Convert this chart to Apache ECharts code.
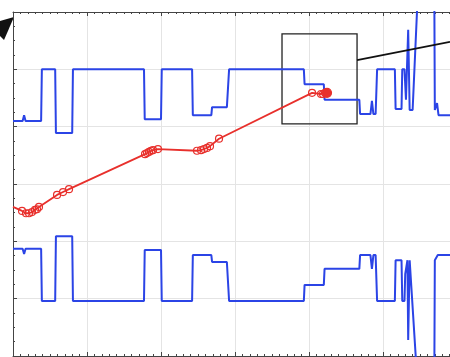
<!DOCTYPE html>
<html><head><meta charset="utf-8">
<script src="https://cdn.jsdelivr.net/npm/echarts@6/dist/echarts.min.js"></script>
<style>html,body{margin:0;padding:0;background:#fff}#c{width:450px;height:357px}</style>
</head><body><div id="c"></div>
<script>
// Axis ranges / ticks
const xMin = 0, xMax = 59.05, xInterval = 10;
const yMin = 0, yMax = 6, yInterval = 1;

// Upper blue trace [x, y]
const upperTrace = [
 [0,4.10],[1.3,4.10],[1.5,4.20],[1.7,4.10],
 [3.8,4.10],[3.9,5.00],[5.7,5.00],[5.8,3.89],
 [8.0,3.89],[8.1,5.00],[17.7,5.00],[17.8,4.13],
 [20.0,4.13],[20.1,5.00],[24.2,5.00],[24.3,4.20],
 [26.8,4.20],[26.9,4.34],[28.9,4.34],[29.2,5.00],
 [39.3,5.00],[39.4,4.74],[42.0,4.74],[42.1,4.47],
 [46.8,4.47],[46.9,4.22],[48.3,4.22],[48.5,4.45],[48.7,4.22],
 [49.0,4.22],[49.2,5.00],[51.6,5.00],[51.7,4.31],
 [52.5,4.31],[52.6,5.00],[52.9,5.00],[53.1,4.47],
 [53.4,5.69],[53.6,4.29],[54.0,4.29],[55.0,7.20],
 [56.9,7.20],[57.0,4.29],[57.3,4.41],[57.5,4.20],[59.05,4.20]
];

// Lower blue trace [x, y]
const lowerTrace = [
 [0,1.87],[1.3,1.87],[1.5,1.78],[1.7,1.87],
 [3.8,1.87],[3.9,0.96],[5.7,0.96],[5.8,2.09],
 [8.0,2.09],[8.1,0.96],[17.7,0.96],[17.8,1.85],
 [20.0,1.85],[20.1,0.96],[24.2,0.96],[24.3,1.76],
 [26.8,1.76],[26.9,1.64],[28.9,1.64],[29.2,0.96],
 [39.3,0.96],[39.4,1.24],[42.0,1.24],[42.1,1.52],
 [46.8,1.52],[46.9,1.76],[48.3,1.76],[48.5,1.52],[48.7,1.76],
 [49.0,1.76],[49.2,0.96],[51.6,0.96],[51.7,1.67],
 [52.5,1.67],[52.6,0.96],[52.9,0.96],[53.0,1.43],
 [53.3,1.67],[53.4,0.28],[53.6,1.67],[55.0,-1.20],
 [56.9,-1.20],[57.0,1.67],[57.4,1.76],[59.05,1.76]
];

// Red trajectory with circle markers [x, y]
const redStart = [0, 2.60];
const redPoints = [
 [1.22,2.53],[1.76,2.49],[2.16,2.49],[2.57,2.51],[2.97,2.55],[3.24,2.56],[3.51,2.60],
 [5.95,2.81],[6.76,2.86],[7.57,2.91],
 [17.84,3.52],[18.11,3.54],[18.38,3.56],[18.65,3.58],[18.92,3.59],[19.59,3.61],
 [24.86,3.58],[25.41,3.59],[25.81,3.61],[26.22,3.63],[26.62,3.66],[27.84,3.79],
 [40.41,4.59],[41.62,4.57],[41.89,4.57],[42.16,4.59]
];
const redEnd = [42.43, 4.59];

// Zoom box and connector (data coords)
const zoomBox = [[36.35,5.62],[46.49,4.05]];
const connector = [[46.49,5.16],[59.05,5.48]];

const BLUE = '#2b44e6', RED = '#e8302c', AX = '#444';

const chart = echarts.init(document.getElementById('c'), null, {renderer:'canvas'});
const axisLine = {show:true,lineStyle:{color:AX,width:1}};
const axisTick = {show:true,inside:true,length:4,lineStyle:{color:AX,width:1}};
chart.setOption({
  animation:false,
  backgroundColor:'#fff',
  grid:{left:13,top:12,right:0,bottom:1,containLabel:false},
  xAxis:[
    {type:'value',min:xMin,max:xMax,interval:xInterval,position:'bottom',
      splitLine:{show:true,lineStyle:{color:'#e4e4e4',width:1}},
      axisLine:axisLine,axisTick:axisTick,
      minorTick:{show:true,splitNumber:10,length:2,lineStyle:{color:AX,width:1}},
      axisLabel:{show:false}},
    {type:'value',min:xMin,max:xMax,interval:xInterval,position:'top',
      splitLine:{show:false},
      axisLine:axisLine,axisTick:axisTick,
      minorTick:{show:true,splitNumber:10,length:2,lineStyle:{color:AX,width:1}},
      axisLabel:{show:false}}
  ],
  yAxis:{type:'value',min:yMin,max:yMax,interval:yInterval,
    splitLine:{show:true,lineStyle:{color:'#e4e4e4',width:1}},
    axisLine:axisLine,axisTick:axisTick,
    minorTick:{show:true,splitNumber:4,length:2,lineStyle:{color:AX,width:1}},
    axisLabel:{show:false}},
  series:[
    {type:'line',data:upperTrace,showSymbol:false,symbol:'none',clip:true,
     lineStyle:{color:BLUE,width:2},z:3},
    {type:'line',data:lowerTrace,showSymbol:false,symbol:'none',clip:true,
     lineStyle:{color:BLUE,width:2},z:3},
    {type:'line',clip:true,z:4,
     data:[{value:redStart,symbol:'none'}].concat(redPoints,
       [{value:redEnd,symbolSize:9,itemStyle:{color:RED,borderColor:RED}}]),
     symbol:'circle',symbolSize:7,showSymbol:true,
     lineStyle:{color:RED,width:1.8},
     itemStyle:{color:'rgba(255,255,255,0)',borderColor:RED,borderWidth:1.2},
     markArea:{silent:true,itemStyle:{color:'rgba(0,0,0,0)',borderColor:'#222',borderWidth:1.3},
       data:[[{coord:zoomBox[0]},{coord:zoomBox[1]}]]},
     markLine:{silent:true,symbol:'none',label:{show:false},
       lineStyle:{color:'#111',width:1.8,type:'solid'},
       data:[[{coord:connector[0]},{coord:connector[1]}]]}
    }
  ],
  graphic:[{type:'polygon',shape:{points:[[14,17],[0,21],[0,36],[4,40]]},style:{fill:'#111'}}]
});
</script></body></html>
